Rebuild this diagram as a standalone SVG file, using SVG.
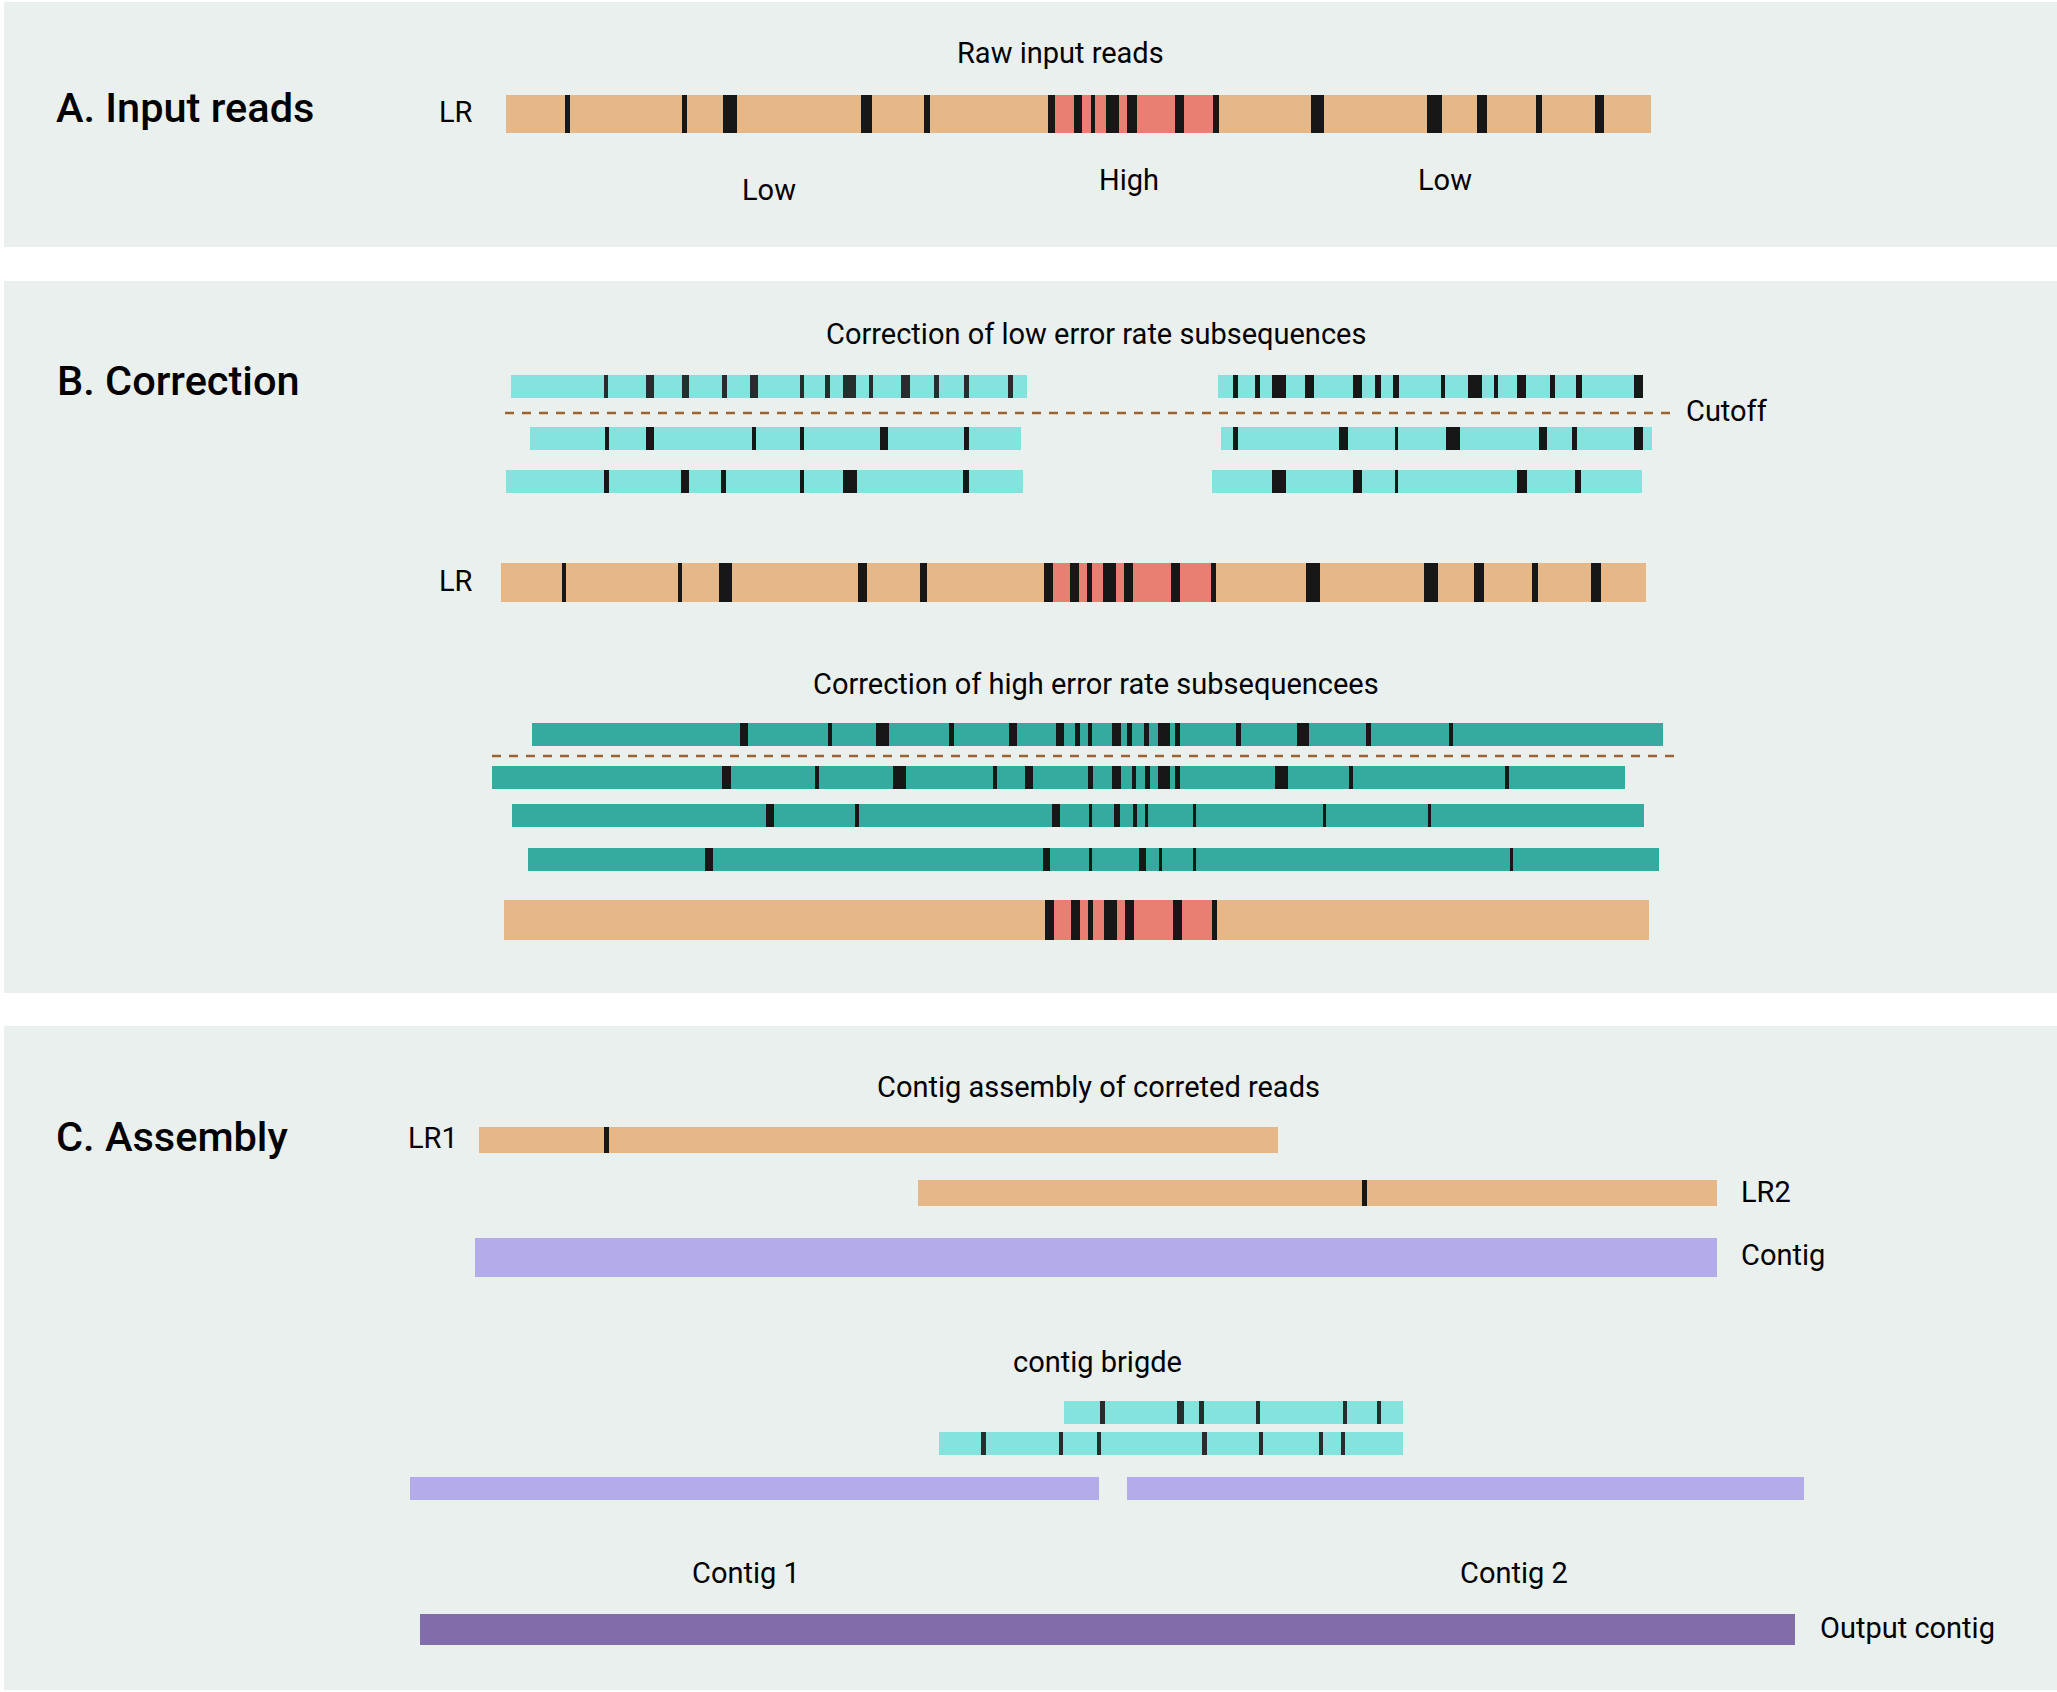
<svg xmlns="http://www.w3.org/2000/svg" width="2057" height="1692" viewBox="0 0 2057 1692">
<style>
.bg{fill:#ffffff}
.panel{fill:#eaf0ee}
.lr{fill:#e7b887}
.hi{fill:#e97e72}
.tk{fill:#171717}
.tg{fill:#262d2d}
.cy{fill:#85e3dd}
.tl{fill:#35aa9e}
.lav{fill:#b4acea}
.out{fill:#826daa}
.cut{stroke:#9a6334;stroke-width:2.5;stroke-dasharray:9 8;fill:none}
.h{font-family:Roboto,"Liberation Sans",sans-serif;font-size:41.5px;font-weight:500;fill:#000}
.t{font-family:Roboto,"Liberation Sans",sans-serif;font-size:29px;fill:#000}
</style>
<rect class="bg" x="0" y="0" width="2057" height="1692"/>

<g id="panelA">
<rect class="panel" x="4" y="2" width="2053" height="245"/>
<text class="h" x="56" y="122">A. Input reads</text>
<text class="t" x="957" y="63">Raw input reads</text>
<text class="t" x="439" y="122">LR</text>
<text class="t" x="742" y="200">Low</text>
<text class="t" x="1099" y="190">High</text>
<text class="t" x="1418" y="190">Low</text>
<g id="readA">
<rect class="lr" x="506" y="95" width="1145" height="38"/>
<rect class="hi" x="1055" y="95" width="158" height="38"/>
<rect class="tk" x="565" y="95" width="5" height="38"/>
<rect class="tk" x="682" y="95" width="5" height="38"/>
<rect class="tk" x="723" y="95" width="14" height="38"/>
<rect class="tk" x="861" y="95" width="11" height="38"/>
<rect class="tk" x="924" y="95" width="6" height="38"/>
<rect class="tk" x="1048" y="95" width="7" height="38"/>
<rect class="tk" x="1074" y="95" width="8" height="38"/>
<rect class="tk" x="1091" y="95" width="4" height="38"/>
<rect class="tk" x="1106" y="95" width="13" height="38"/>
<rect class="tk" x="1127" y="95" width="10" height="38"/>
<rect class="tk" x="1175" y="95" width="9" height="38"/>
<rect class="tk" x="1213" y="95" width="6" height="38"/>
<rect class="tk" x="1311" y="95" width="13" height="38"/>
<rect class="tk" x="1427" y="95" width="15" height="38"/>
<rect class="tk" x="1477" y="95" width="10" height="38"/>
<rect class="tk" x="1536" y="95" width="6" height="38"/>
<rect class="tk" x="1595" y="95" width="9" height="38"/>
</g>
</g>

<g id="panelB">
<rect class="panel" x="4" y="281" width="2053" height="712"/>
<text class="h" x="57" y="395">B. Correction</text>
<text class="t" x="826" y="344">Correction of low error rate subsequences</text>
<text class="t" x="1686" y="421">Cutoff</text>
<text class="t" x="439" y="591">LR</text>
<text class="t" x="813" y="694">Correction of high error rate subsequencees</text>

<g id="lowL1">
<rect class="cy" x="511" y="375" width="516" height="23"/>
<rect class="tg" x="604" y="375" width="4" height="23"/>
<rect class="tg" x="646" y="375" width="8" height="23"/>
<rect class="tg" x="682" y="375" width="7" height="23"/>
<rect class="tg" x="722" y="375" width="5" height="23"/>
<rect class="tg" x="750" y="375" width="8" height="23"/>
<rect class="tg" x="800" y="375" width="4" height="23"/>
<rect class="tg" x="825" y="375" width="5" height="23"/>
<rect class="tg" x="843" y="375" width="13" height="23"/>
<rect class="tg" x="869" y="375" width="4" height="23"/>
<rect class="tg" x="901" y="375" width="9" height="23"/>
<rect class="tg" x="934" y="375" width="5" height="23"/>
<rect class="tg" x="964" y="375" width="5" height="23"/>
<rect class="tg" x="1008" y="375" width="5" height="23"/>
</g>
<g id="lowR1">
<rect class="cy" x="1218" y="375" width="425" height="23"/>
<rect class="tk" x="1233" y="375" width="5" height="23"/>
<rect class="tk" x="1255" y="375" width="5" height="23"/>
<rect class="tk" x="1272" y="375" width="14" height="23"/>
<rect class="tk" x="1305" y="375" width="9" height="23"/>
<rect class="tk" x="1353" y="375" width="9" height="23"/>
<rect class="tk" x="1375" y="375" width="6" height="23"/>
<rect class="tk" x="1393" y="375" width="6" height="23"/>
<rect class="tk" x="1441" y="375" width="4" height="23"/>
<rect class="tk" x="1468" y="375" width="14" height="23"/>
<rect class="tk" x="1494" y="375" width="4" height="23"/>
<rect class="tk" x="1517" y="375" width="9" height="23"/>
<rect class="tk" x="1550" y="375" width="5" height="23"/>
<rect class="tk" x="1576" y="375" width="6" height="23"/>
<rect class="tk" x="1634" y="375" width="9" height="23"/>
</g>
<g id="lowL2">
<rect class="cy" x="530" y="427" width="491" height="23"/>
<rect class="tk" x="605" y="427" width="4" height="23"/>
<rect class="tk" x="646" y="427" width="8" height="23"/>
<rect class="tk" x="752" y="427" width="4" height="23"/>
<rect class="tk" x="800" y="427" width="4" height="23"/>
<rect class="tk" x="880" y="427" width="8" height="23"/>
<rect class="tk" x="964" y="427" width="5" height="23"/>
</g>
<g id="lowR2">
<rect class="cy" x="1221" y="427" width="431" height="23"/>
<rect class="tk" x="1233" y="427" width="5" height="23"/>
<rect class="tk" x="1339" y="427" width="9" height="23"/>
<rect class="tk" x="1395" y="427" width="3" height="23"/>
<rect class="tk" x="1446" y="427" width="14" height="23"/>
<rect class="tk" x="1539" y="427" width="8" height="23"/>
<rect class="tk" x="1572" y="427" width="5" height="23"/>
<rect class="tk" x="1634" y="427" width="9" height="23"/>
</g>
<g id="lowL3">
<rect class="cy" x="506" y="470" width="517" height="23"/>
<rect class="tk" x="604" y="470" width="5" height="23"/>
<rect class="tk" x="681" y="470" width="8" height="23"/>
<rect class="tk" x="721" y="470" width="5" height="23"/>
<rect class="tk" x="800" y="470" width="4" height="23"/>
<rect class="tk" x="843" y="470" width="14" height="23"/>
<rect class="tk" x="963" y="470" width="6" height="23"/>
</g>
<g id="lowR3">
<rect class="cy" x="1212" y="470" width="430" height="23"/>
<rect class="tk" x="1272" y="470" width="14" height="23"/>
<rect class="tk" x="1353" y="470" width="9" height="23"/>
<rect class="tk" x="1395" y="470" width="3" height="23"/>
<rect class="tk" x="1517" y="470" width="10" height="23"/>
<rect class="tk" x="1575" y="470" width="6" height="23"/>
</g>

<g id="readB">
<rect class="lr" x="501" y="563" width="1145" height="39"/>
<rect class="hi" x="1053" y="563" width="158" height="39"/>
<rect class="tk" x="562" y="563" width="4" height="39"/>
<rect class="tk" x="678" y="563" width="4" height="39"/>
<rect class="tk" x="719" y="563" width="13" height="39"/>
<rect class="tk" x="858" y="563" width="9" height="39"/>
<rect class="tk" x="920" y="563" width="7" height="39"/>
<rect class="tk" x="1044" y="563" width="9" height="39"/>
<rect class="tk" x="1070" y="563" width="9" height="39"/>
<rect class="tk" x="1087" y="563" width="5" height="39"/>
<rect class="tk" x="1103" y="563" width="13" height="39"/>
<rect class="tk" x="1124" y="563" width="9" height="39"/>
<rect class="tk" x="1171" y="563" width="9" height="39"/>
<rect class="tk" x="1211" y="563" width="5" height="39"/>
<rect class="tk" x="1306" y="563" width="14" height="39"/>
<rect class="tk" x="1424" y="563" width="14" height="39"/>
<rect class="tk" x="1474" y="563" width="10" height="39"/>
<rect class="tk" x="1532" y="563" width="6" height="39"/>
<rect class="tk" x="1591" y="563" width="10" height="39"/>
</g>

<g id="high1">
<rect class="tl" x="532" y="723" width="1131" height="23"/>
<rect class="tk" x="740" y="723" width="8" height="23"/>
<rect class="tk" x="828" y="723" width="4" height="23"/>
<rect class="tk" x="876" y="723" width="13" height="23"/>
<rect class="tk" x="949" y="723" width="5" height="23"/>
<rect class="tk" x="1009" y="723" width="8" height="23"/>
<rect class="tk" x="1056" y="723" width="8" height="23"/>
<rect class="tk" x="1075" y="723" width="5" height="23"/>
<rect class="tk" x="1088" y="723" width="4" height="23"/>
<rect class="tk" x="1112" y="723" width="9" height="23"/>
<rect class="tk" x="1127" y="723" width="5" height="23"/>
<rect class="tk" x="1144" y="723" width="5" height="23"/>
<rect class="tk" x="1158" y="723" width="12" height="23"/>
<rect class="tk" x="1175" y="723" width="5" height="23"/>
<rect class="tk" x="1236" y="723" width="5" height="23"/>
<rect class="tk" x="1297" y="723" width="12" height="23"/>
<rect class="tk" x="1366" y="723" width="5" height="23"/>
<rect class="tk" x="1449" y="723" width="4" height="23"/>
</g>
<g id="high2">
<rect class="tl" x="492" y="766" width="1133" height="23"/>
<rect class="tk" x="722" y="766" width="9" height="23"/>
<rect class="tk" x="815" y="766" width="4" height="23"/>
<rect class="tk" x="893" y="766" width="13" height="23"/>
<rect class="tk" x="993" y="766" width="4" height="23"/>
<rect class="tk" x="1025" y="766" width="8" height="23"/>
<rect class="tk" x="1088" y="766" width="5" height="23"/>
<rect class="tk" x="1112" y="766" width="9" height="23"/>
<rect class="tk" x="1132" y="766" width="4" height="23"/>
<rect class="tk" x="1145" y="766" width="5" height="23"/>
<rect class="tk" x="1158" y="766" width="12" height="23"/>
<rect class="tk" x="1175" y="766" width="5" height="23"/>
<rect class="tk" x="1275" y="766" width="13" height="23"/>
<rect class="tk" x="1349" y="766" width="4" height="23"/>
<rect class="tk" x="1505" y="766" width="4" height="23"/>
</g>
<g id="high3">
<rect class="tl" x="512" y="804" width="1132" height="23"/>
<rect class="tk" x="766" y="804" width="8" height="23"/>
<rect class="tk" x="855" y="804" width="4" height="23"/>
<rect class="tk" x="1052" y="804" width="8" height="23"/>
<rect class="tk" x="1089" y="804" width="3" height="23"/>
<rect class="tk" x="1114" y="804" width="6" height="23"/>
<rect class="tk" x="1133" y="804" width="4" height="23"/>
<rect class="tk" x="1145" y="804" width="3" height="23"/>
<rect class="tk" x="1193" y="804" width="3" height="23"/>
<rect class="tk" x="1323" y="804" width="3" height="23"/>
<rect class="tk" x="1428" y="804" width="3" height="23"/>
</g>
<g id="high4">
<rect class="tl" x="528" y="848" width="1131" height="23"/>
<rect class="tk" x="705" y="848" width="8" height="23"/>
<rect class="tk" x="1043" y="848" width="7" height="23"/>
<rect class="tk" x="1089" y="848" width="3" height="23"/>
<rect class="tk" x="1139" y="848" width="7" height="23"/>
<rect class="tk" x="1159" y="848" width="3" height="23"/>
<rect class="tk" x="1193" y="848" width="3" height="23"/>
<rect class="tk" x="1510" y="848" width="3" height="23"/>
</g>
<g id="readB2">
<rect class="lr" x="504" y="900" width="1145" height="40"/>
<rect class="hi" x="1054" y="900" width="158" height="40"/>
<rect class="tk" x="1045" y="900" width="9" height="40"/>
<rect class="tk" x="1071" y="900" width="9" height="40"/>
<rect class="tk" x="1088" y="900" width="5" height="40"/>
<rect class="tk" x="1104" y="900" width="13" height="40"/>
<rect class="tk" x="1125" y="900" width="9" height="40"/>
<rect class="tk" x="1173" y="900" width="9" height="40"/>
<rect class="tk" x="1212" y="900" width="5" height="40"/>
</g>
</g>

<g id="panelC">
<rect class="panel" x="4" y="1026" width="2053" height="664"/>
<text class="h" x="56" y="1151">C. Assembly</text>
<text class="t" x="877" y="1097">Contig assembly of correted reads</text>
<text class="t" x="408" y="1148">LR1</text>
<text class="t" x="1741" y="1202">LR2</text>
<text class="t" x="1741" y="1265">Contig</text>
<text class="t" x="1013" y="1372">contig brigde</text>
<text class="t" x="692" y="1583">Contig 1</text>
<text class="t" x="1460" y="1583">Contig 2</text>
<text class="t" x="1820" y="1638">Output contig</text>
<g id="lr1">
<rect class="lr" x="479" y="1127" width="799" height="26"/>
<rect class="tk" x="604" y="1127" width="5" height="26"/>
</g>
<g id="lr2">
<rect class="lr" x="918" y="1180" width="799" height="26"/>
<rect class="tk" x="1362" y="1180" width="5" height="26"/>
</g>
<rect id="contig" class="lav" x="475" y="1238" width="1242" height="39"/>
<g id="bridge1">
<rect class="cy" x="1064" y="1401" width="339" height="23"/>
<rect class="tg" x="1100" y="1401" width="5" height="23"/>
<rect class="tg" x="1177" y="1401" width="7" height="23"/>
<rect class="tg" x="1199" y="1401" width="5" height="23"/>
<rect class="tg" x="1256" y="1401" width="4" height="23"/>
<rect class="tg" x="1343" y="1401" width="4" height="23"/>
<rect class="tg" x="1377" y="1401" width="4" height="23"/>
</g>
<g id="bridge2">
<rect class="cy" x="939" y="1432" width="464" height="23"/>
<rect class="tg" x="981" y="1432" width="5" height="23"/>
<rect class="tg" x="1059" y="1432" width="4" height="23"/>
<rect class="tg" x="1097" y="1432" width="4" height="23"/>
<rect class="tg" x="1202" y="1432" width="5" height="23"/>
<rect class="tg" x="1259" y="1432" width="4" height="23"/>
<rect class="tg" x="1319" y="1432" width="4" height="23"/>
<rect class="tg" x="1341" y="1432" width="4" height="23"/>
</g>
<rect id="contig1" class="lav" x="410" y="1477" width="689" height="23"/>
<rect id="contig2" class="lav" x="1127" y="1477" width="677" height="23"/>
<rect id="outputContig" class="out" x="420" y="1614" width="1375" height="31"/>
</g>

<g id="connectors">
<line class="cut" x1="505" y1="413" x2="1675" y2="413"/>
<line class="cut" x1="492" y1="756" x2="1675" y2="756"/>
</g>
</svg>
